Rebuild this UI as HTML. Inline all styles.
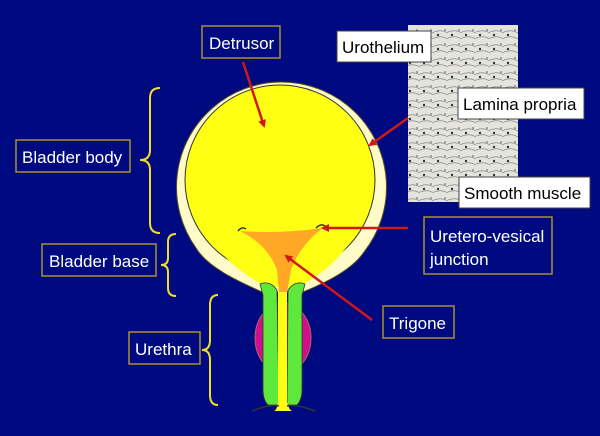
<!DOCTYPE html>
<html><head><style>
body{margin:0;background:#000A80;}
svg{display:block}
text{font-family:"Liberation Sans",sans-serif;fill:#fff;font-size:17px}
.bx{fill:#000A80;stroke:#A8902A;stroke-width:1.5}
.wb{fill:#fff;stroke:#444;stroke-width:1}
.wt{fill:#000}
.br{fill:none;stroke:#F2DE2A;stroke-width:2}
.ar{stroke:#D01818;stroke-width:2.5;fill:none}
</style></head><body>
<svg width="600" height="436" viewBox="0 0 600 436">
<defs><marker id="m" markerWidth="8" markerHeight="8" refX="6" refY="4" orient="auto" markerUnits="userSpaceOnUse"><path d="M0,0 L8,4 L0,8 z" fill="#D01818"/></marker>
<pattern id="h" width="14" height="14" patternUnits="userSpaceOnUse"><rect width="14" height="14" fill="#e4e4dc"/><path d="M0,4 Q7,1 14,5 M0,10 Q7,7 14,11" stroke="#888" stroke-width="0.7" fill="none"/><circle cx="4" cy="7" r="1.2" fill="#333"/><circle cx="11" cy="2" r="0.8" fill="#555"/></pattern></defs>
<rect width="600" height="436" fill="#000A80"/>
<rect x="408" y="25" width="110" height="177" fill="url(#h)"/>
<path d="M262,292 C240,282 208,268 196,248 A105,105 0 1 1 364,252 C352,270 325,283 303,292 Z" fill="#FFFBC8" stroke="#5a5020" stroke-width="1"/>
<circle cx="280" cy="180" r="95" fill="#FFFF14" stroke="#333" stroke-width="1"/>
<path d="M214,245 C234,268 252,280 268,287 L298,287 C315,278 333,266 348,245 Z" fill="#FFFF14"/>
<ellipse cx="283" cy="338" rx="28" ry="35" fill="#D0108A" stroke="#b06060"/>
<path d="M260,284 Q270,280 277,290 L279,405 L268,405 Q263,400 263,390 L263,295 Z" fill="#5EE83C" stroke="#333" stroke-width="0.8"/>
<path d="M305,284 Q295,280 288,290 L287,405 L297,405 Q302,400 302,390 L302,295 Z" fill="#5EE83C" stroke="#333" stroke-width="0.8"/>
<path d="M278,290 L287,290 L287,402 Q289,410 292,411 L274,411 Q277,410 278,402 Z" fill="#FFFF14"/>
<path d="M252,411 Q270,404 279,406 M287,406 Q296,404 315,411" stroke="#333" stroke-width="1.5" fill="none"/>
<path d="M240,231 Q280,234 323,228 Q300,245 291,270 L287,292 L279,292 L277,270 Q268,245 240,231 Z" fill="#FFA826"/>
<path d="M238,231 Q242,226 246,229 M316,228 Q321,223 325,226" stroke="#333" stroke-width="1.5" fill="none"/>
<path class="br" d="M160,88 Q150,88 150,98 L150,150 Q150,160 140,160 Q150,160 150,170 L150,223 Q150,233 160,233"/>
<path class="br" d="M176,234 Q168,234 168,242 L168,258 Q168,265 161,265 Q168,265 168,272 L168,288 Q168,296 176,296"/>
<path class="br" d="M218,295 Q210,295 210,305 L210,340 Q210,350 202,350 Q210,350 210,360 L210,395 Q210,405 218,405"/>
<line class="ar" x1="243" y1="62" x2="264" y2="126" marker-end="url(#m)"/>
<line class="ar" x1="408" y1="118" x2="370" y2="145" marker-end="url(#m)"/>
<line class="ar" x1="408" y1="228" x2="323" y2="228" marker-end="url(#m)"/>
<line class="ar" x1="372" y1="320" x2="286" y2="256" marker-end="url(#m)"/>
<rect class="bx" x="202" y="26" width="78" height="32"/><text x="209" y="49">Detrusor</text>
<rect class="bx" x="16" y="140" width="114" height="32"/><text x="22" y="163">Bladder body</text>
<rect class="bx" x="42" y="244" width="114" height="32"/><text x="49" y="267">Bladder base</text>
<rect class="bx" x="129" y="332" width="71" height="32"/><text x="135" y="355">Urethra</text>
<rect class="bx" x="424" y="217" width="128" height="57"/><text x="430" y="242">Uretero-vesical</text><text x="430" y="265">junction</text>
<rect class="bx" x="383" y="306" width="71" height="32"/><text x="389" y="329">Trigone</text>
<rect class="wb" x="337" y="31" width="94" height="31"/><text class="wt" x="342" y="53">Urothelium</text>
<rect class="wb" x="458" y="88" width="126" height="31"/><text class="wt" x="463" y="110">Lamina propria</text>
<rect class="wb" x="459" y="177" width="131" height="31"/><text class="wt" x="464" y="199">Smooth muscle</text>
</svg>
</body></html>
